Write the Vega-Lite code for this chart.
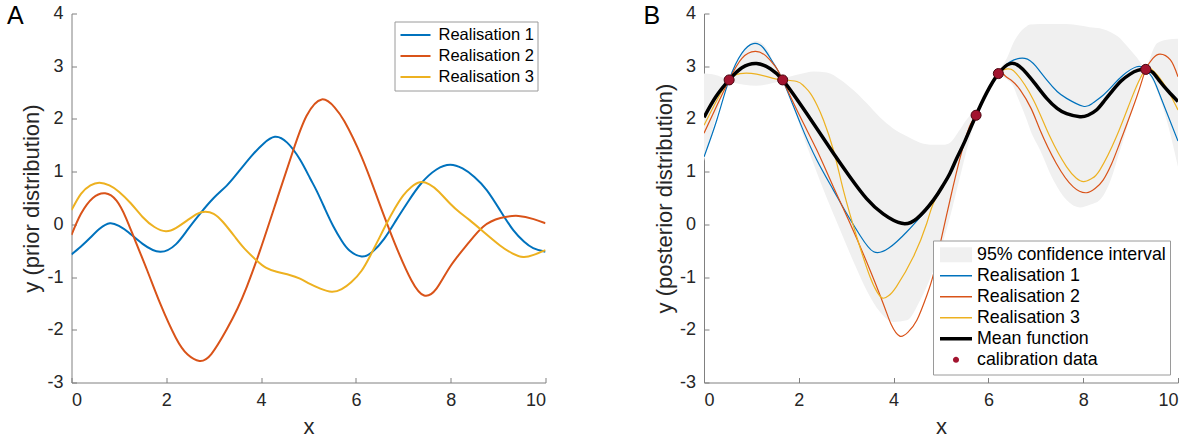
{
  "$schema": "https://vega.github.io/schema/vega-lite/v6.json",
  "autosize": {"type": "none"},
  "padding": {"left": 71.5, "top": 13.5, "right": 1124.5, "bottom": 429.5},
  "background": "white",
  "spacing": 158.5,
  "bounds": "flush",
  "config": {
    "view": {"stroke": null},
    "font": "Liberation Sans",
    "axis": {
      "grid": false,
      "domainColor": "#808080",
      "tickColor": "#808080",
      "tickSize": -5,
      "labelExpr": "'' + datum.value",
      "labelFont": "Liberation Sans",
      "labelFontSize": 18,
      "labelColor": "#262626",
      "titleFont": "Liberation Sans",
      "titleFontSize": 22,
      "titleFontWeight": "normal",
      "titleColor": "#262626"
    },
    "axisX": {"labelPadding": 14, "titlePadding": 7},
    "axisY": {"labelPadding": 13.5, "titlePadding": 3},
    "title": {"font": "Liberation Sans", "fontSize": 25, "fontWeight": "normal", "color": "#000000", "anchor": "start", "frame": "group", "offset": 0, "baseline": "alphabetic"}
  },
  "datasets": {
    "prior": [
      {"x":0,"y":-0.57,"s":"Realisation 1"},{"x":0.2,"y":-0.42,"s":"Realisation 1"},{"x":0.4,"y":-0.25,"s":"Realisation 1"},{"x":0.6,"y":-0.08,"s":"Realisation 1"},{"x":0.81,"y":0.02,"s":"Realisation 1"},{"x":1.0,"y":-0.03,"s":"Realisation 1"},{"x":1.2,"y":-0.15,"s":"Realisation 1"},{"x":1.5,"y":-0.37,"s":"Realisation 1"},{"x":1.87,"y":-0.52,"s":"Realisation 1"},{"x":2.2,"y":-0.38,"s":"Realisation 1"},{"x":2.45,"y":-0.1,"s":"Realisation 1"},{"x":2.71,"y":0.2,"s":"Realisation 1"},{"x":3.0,"y":0.5,"s":"Realisation 1"},{"x":3.27,"y":0.73,"s":"Realisation 1"},{"x":3.5,"y":0.97,"s":"Realisation 1"},{"x":3.8,"y":1.3,"s":"Realisation 1"},{"x":4.05,"y":1.53,"s":"Realisation 1"},{"x":4.29,"y":1.66,"s":"Realisation 1"},{"x":4.55,"y":1.55,"s":"Realisation 1"},{"x":4.82,"y":1.23,"s":"Realisation 1"},{"x":5.03,"y":0.88,"s":"Realisation 1"},{"x":5.17,"y":0.64,"s":"Realisation 1"},{"x":5.35,"y":0.29,"s":"Realisation 1"},{"x":5.52,"y":-0.03,"s":"Realisation 1"},{"x":5.7,"y":-0.31,"s":"Realisation 1"},{"x":5.87,"y":-0.5,"s":"Realisation 1"},{"x":6.12,"y":-0.61,"s":"Realisation 1"},{"x":6.35,"y":-0.52,"s":"Realisation 1"},{"x":6.6,"y":-0.27,"s":"Realisation 1"},{"x":6.85,"y":0.08,"s":"Realisation 1"},{"x":7.1,"y":0.43,"s":"Realisation 1"},{"x":7.38,"y":0.78,"s":"Realisation 1"},{"x":7.7,"y":1.04,"s":"Realisation 1"},{"x":7.99,"y":1.13,"s":"Realisation 1"},{"x":8.25,"y":1.06,"s":"Realisation 1"},{"x":8.5,"y":0.9,"s":"Realisation 1"},{"x":8.76,"y":0.65,"s":"Realisation 1"},{"x":9.04,"y":0.27,"s":"Realisation 1"},{"x":9.32,"y":-0.11,"s":"Realisation 1"},{"x":9.55,"y":-0.33,"s":"Realisation 1"},{"x":9.74,"y":-0.45,"s":"Realisation 1"},{"x":10,"y":-0.52,"s":"Realisation 1"},
      {"x":0,"y":-0.2,"s":"Realisation 2"},{"x":0.2,"y":0.2,"s":"Realisation 2"},{"x":0.45,"y":0.5,"s":"Realisation 2"},{"x":0.71,"y":0.59,"s":"Realisation 2"},{"x":0.95,"y":0.45,"s":"Realisation 2"},{"x":1.15,"y":0.12,"s":"Realisation 2"},{"x":1.34,"y":-0.3,"s":"Realisation 2"},{"x":1.6,"y":-0.88,"s":"Realisation 2"},{"x":1.87,"y":-1.5,"s":"Realisation 2"},{"x":2.2,"y":-2.15,"s":"Realisation 2"},{"x":2.45,"y":-2.47,"s":"Realisation 2"},{"x":2.7,"y":-2.59,"s":"Realisation 2"},{"x":2.95,"y":-2.46,"s":"Realisation 2"},{"x":3.27,"y":-2.0,"s":"Realisation 2"},{"x":3.5,"y":-1.6,"s":"Realisation 2"},{"x":3.7,"y":-1.18,"s":"Realisation 2"},{"x":3.98,"y":-0.49,"s":"Realisation 2"},{"x":4.33,"y":0.46,"s":"Realisation 2"},{"x":4.68,"y":1.41,"s":"Realisation 2"},{"x":4.96,"y":2.06,"s":"Realisation 2"},{"x":5.28,"y":2.37,"s":"Realisation 2"},{"x":5.55,"y":2.22,"s":"Realisation 2"},{"x":5.76,"y":1.95,"s":"Realisation 2"},{"x":6.12,"y":1.28,"s":"Realisation 2"},{"x":6.47,"y":0.46,"s":"Realisation 2"},{"x":6.82,"y":-0.36,"s":"Realisation 2"},{"x":7.17,"y":-1.06,"s":"Realisation 2"},{"x":7.44,"y":-1.35,"s":"Realisation 2"},{"x":7.7,"y":-1.22,"s":"Realisation 2"},{"x":7.99,"y":-0.8,"s":"Realisation 2"},{"x":8.35,"y":-0.38,"s":"Realisation 2"},{"x":8.69,"y":-0.04,"s":"Realisation 2"},{"x":9.05,"y":0.12,"s":"Realisation 2"},{"x":9.43,"y":0.16,"s":"Realisation 2"},{"x":9.75,"y":0.1,"s":"Realisation 2"},{"x":10,"y":0.02,"s":"Realisation 2"},
      {"x":0,"y":0.27,"s":"Realisation 3"},{"x":0.2,"y":0.58,"s":"Realisation 3"},{"x":0.4,"y":0.74,"s":"Realisation 3"},{"x":0.59,"y":0.79,"s":"Realisation 3"},{"x":0.8,"y":0.74,"s":"Realisation 3"},{"x":1.0,"y":0.62,"s":"Realisation 3"},{"x":1.25,"y":0.4,"s":"Realisation 3"},{"x":1.5,"y":0.14,"s":"Realisation 3"},{"x":1.75,"y":-0.05,"s":"Realisation 3"},{"x":1.99,"y":-0.13,"s":"Realisation 3"},{"x":2.2,"y":-0.07,"s":"Realisation 3"},{"x":2.45,"y":0.08,"s":"Realisation 3"},{"x":2.65,"y":0.2,"s":"Realisation 3"},{"x":2.82,"y":0.24,"s":"Realisation 3"},{"x":3.0,"y":0.2,"s":"Realisation 3"},{"x":3.2,"y":0.04,"s":"Realisation 3"},{"x":3.45,"y":-0.24,"s":"Realisation 3"},{"x":3.65,"y":-0.46,"s":"Realisation 3"},{"x":3.9,"y":-0.68,"s":"Realisation 3"},{"x":4.1,"y":-0.82,"s":"Realisation 3"},{"x":4.33,"y":-0.9,"s":"Realisation 3"},{"x":4.6,"y":-0.96,"s":"Realisation 3"},{"x":4.82,"y":-1.03,"s":"Realisation 3"},{"x":5.03,"y":-1.13,"s":"Realisation 3"},{"x":5.25,"y":-1.22,"s":"Realisation 3"},{"x":5.49,"y":-1.28,"s":"Realisation 3"},{"x":5.7,"y":-1.23,"s":"Realisation 3"},{"x":5.9,"y":-1.1,"s":"Realisation 3"},{"x":6.12,"y":-0.88,"s":"Realisation 3"},{"x":6.3,"y":-0.6,"s":"Realisation 3"},{"x":6.47,"y":-0.3,"s":"Realisation 3"},{"x":6.65,"y":0.02,"s":"Realisation 3"},{"x":6.82,"y":0.3,"s":"Realisation 3"},{"x":7.0,"y":0.55,"s":"Realisation 3"},{"x":7.17,"y":0.71,"s":"Realisation 3"},{"x":7.35,"y":0.8,"s":"Realisation 3"},{"x":7.55,"y":0.76,"s":"Realisation 3"},{"x":7.75,"y":0.62,"s":"Realisation 3"},{"x":7.99,"y":0.39,"s":"Realisation 3"},{"x":8.2,"y":0.22,"s":"Realisation 3"},{"x":8.4,"y":0.08,"s":"Realisation 3"},{"x":8.69,"y":-0.14,"s":"Realisation 3"},{"x":9.04,"y":-0.4,"s":"Realisation 3"},{"x":9.3,"y":-0.55,"s":"Realisation 3"},{"x":9.53,"y":-0.62,"s":"Realisation 3"},{"x":9.75,"y":-0.58,"s":"Realisation 3"},{"x":10,"y":-0.49,"s":"Realisation 3"}
    ],
    "band": [
      {"x":0,"lo":1.2,"hi":2.86},{"x":0.15,"lo":1.7,"hi":2.85},{"x":0.3,"lo":2.2,"hi":2.82},{"x":0.45,"lo":2.6,"hi":2.77},{"x":0.53,"lo":2.71,"hi":2.77},{"x":0.65,"lo":2.68,"hi":2.95},{"x":0.85,"lo":2.65,"hi":3.3},{"x":1.1,"lo":2.63,"hi":3.48},{"x":1.35,"lo":2.66,"hi":3.3},{"x":1.55,"lo":2.7,"hi":2.9},{"x":1.66,"lo":2.71,"hi":2.77},{"x":1.8,"lo":2.5,"hi":2.8},{"x":2.03,"lo":1.85,"hi":2.85},{"x":2.31,"lo":1.15,"hi":2.9},{"x":2.59,"lo":0.5,"hi":2.88},{"x":2.87,"lo":-0.1,"hi":2.75},{"x":3.15,"lo":-0.7,"hi":2.55},{"x":3.43,"lo":-1.25,"hi":2.3},{"x":3.71,"lo":-1.66,"hi":2.03},{"x":3.99,"lo":-1.85,"hi":1.82},{"x":4.28,"lo":-1.82,"hi":1.67},{"x":4.56,"lo":-1.44,"hi":1.55},{"x":4.84,"lo":-0.87,"hi":1.51},{"x":5.05,"lo":-0.3,"hi":1.51},{"x":5.19,"lo":0.14,"hi":1.55},{"x":5.4,"lo":0.9,"hi":1.8},{"x":5.6,"lo":1.6,"hi":2.05},{"x":5.74,"lo":2.02,"hi":2.12},{"x":5.96,"lo":2.42,"hi":2.56},{"x":6.21,"lo":2.81,"hi":2.91},{"x":6.39,"lo":2.75,"hi":3.15},{"x":6.53,"lo":2.61,"hi":3.45},{"x":6.6,"lo":2.45,"hi":3.56},{"x":6.81,"lo":1.98,"hi":3.76},{"x":6.88,"lo":1.8,"hi":3.79},{"x":7.09,"lo":1.41,"hi":3.8},{"x":7.37,"lo":0.84,"hi":3.8},{"x":7.65,"lo":0.46,"hi":3.8},{"x":7.93,"lo":0.32,"hi":3.77},{"x":8.14,"lo":0.37,"hi":3.74},{"x":8.35,"lo":0.46,"hi":3.72},{"x":8.63,"lo":0.97,"hi":3.62},{"x":8.74,"lo":1.3,"hi":3.56},{"x":8.91,"lo":1.79,"hi":3.4},{"x":9.11,"lo":2.48,"hi":3.19},{"x":9.32,"lo":2.89,"hi":2.99},{"x":9.48,"lo":2.7,"hi":3.32},{"x":9.55,"lo":2.55,"hi":3.43},{"x":9.76,"lo":1.98,"hi":3.5},{"x":10,"lo":1.09,"hi":3.52}
    ],
    "post": [
      {"x":0,"y":1.28,"s":"Realisation 1"},{"x":0.27,"y":1.98,"s":"Realisation 1"},{"x":0.53,"y":2.74,"s":"Realisation 1"},{"x":0.8,"y":3.25,"s":"Realisation 1"},{"x":1.04,"y":3.43,"s":"Realisation 1"},{"x":1.25,"y":3.35,"s":"Realisation 1"},{"x":1.45,"y":3.08,"s":"Realisation 1"},{"x":1.66,"y":2.74,"s":"Realisation 1"},{"x":2.03,"y":1.92,"s":"Realisation 1"},{"x":2.38,"y":1.22,"s":"Realisation 1"},{"x":2.73,"y":0.65,"s":"Realisation 1"},{"x":3.0,"y":0.22,"s":"Realisation 1"},{"x":3.3,"y":-0.22,"s":"Realisation 1"},{"x":3.58,"y":-0.52,"s":"Realisation 1"},{"x":3.9,"y":-0.45,"s":"Realisation 1"},{"x":4.28,"y":-0.14,"s":"Realisation 1"},{"x":4.63,"y":0.21,"s":"Realisation 1"},{"x":4.84,"y":0.45,"s":"Realisation 1"},{"x":5.05,"y":0.76,"s":"Realisation 1"},{"x":5.19,"y":0.98,"s":"Realisation 1"},{"x":5.33,"y":1.26,"s":"Realisation 1"},{"x":5.5,"y":1.57,"s":"Realisation 1"},{"x":5.74,"y":2.07,"s":"Realisation 1"},{"x":5.96,"y":2.5,"s":"Realisation 1"},{"x":6.21,"y":2.86,"s":"Realisation 1"},{"x":6.45,"y":3.08,"s":"Realisation 1"},{"x":6.77,"y":3.15,"s":"Realisation 1"},{"x":7.0,"y":3.0,"s":"Realisation 1"},{"x":7.23,"y":2.74,"s":"Realisation 1"},{"x":7.45,"y":2.52,"s":"Realisation 1"},{"x":7.65,"y":2.39,"s":"Realisation 1"},{"x":8.0,"y":2.24,"s":"Realisation 1"},{"x":8.2,"y":2.3,"s":"Realisation 1"},{"x":8.42,"y":2.45,"s":"Realisation 1"},{"x":8.64,"y":2.65,"s":"Realisation 1"},{"x":8.84,"y":2.83,"s":"Realisation 1"},{"x":9.13,"y":2.99,"s":"Realisation 1"},{"x":9.32,"y":2.94,"s":"Realisation 1"},{"x":9.45,"y":2.8,"s":"Realisation 1"},{"x":9.55,"y":2.61,"s":"Realisation 1"},{"x":9.75,"y":2.15,"s":"Realisation 1"},{"x":10,"y":1.58,"s":"Realisation 1"},
      {"x":0,"y":1.73,"s":"Realisation 2"},{"x":0.27,"y":2.25,"s":"Realisation 2"},{"x":0.53,"y":2.74,"s":"Realisation 2"},{"x":0.8,"y":3.15,"s":"Realisation 2"},{"x":1.08,"y":3.28,"s":"Realisation 2"},{"x":1.3,"y":3.2,"s":"Realisation 2"},{"x":1.5,"y":3.0,"s":"Realisation 2"},{"x":1.66,"y":2.74,"s":"Realisation 2"},{"x":2.03,"y":2.04,"s":"Realisation 2"},{"x":2.38,"y":1.41,"s":"Realisation 2"},{"x":2.73,"y":0.71,"s":"Realisation 2"},{"x":3.08,"y":0.02,"s":"Realisation 2"},{"x":3.43,"y":-0.71,"s":"Realisation 2"},{"x":3.78,"y":-1.5,"s":"Realisation 2"},{"x":3.95,"y":-1.9,"s":"Realisation 2"},{"x":4.13,"y":-2.12,"s":"Realisation 2"},{"x":4.3,"y":-2.05,"s":"Realisation 2"},{"x":4.49,"y":-1.82,"s":"Realisation 2"},{"x":4.7,"y":-1.35,"s":"Realisation 2"},{"x":4.84,"y":-0.95,"s":"Realisation 2"},{"x":5.0,"y":-0.3,"s":"Realisation 2"},{"x":5.2,"y":0.5,"s":"Realisation 2"},{"x":5.4,"y":1.25,"s":"Realisation 2"},{"x":5.6,"y":1.85,"s":"Realisation 2"},{"x":5.74,"y":2.07,"s":"Realisation 2"},{"x":5.96,"y":2.5,"s":"Realisation 2"},{"x":6.21,"y":2.86,"s":"Realisation 2"},{"x":6.35,"y":2.82,"s":"Realisation 2"},{"x":6.5,"y":2.72,"s":"Realisation 2"},{"x":6.67,"y":2.55,"s":"Realisation 2"},{"x":6.9,"y":2.2,"s":"Realisation 2"},{"x":7.09,"y":1.79,"s":"Realisation 2"},{"x":7.43,"y":1.16,"s":"Realisation 2"},{"x":7.79,"y":0.71,"s":"Realisation 2"},{"x":8.07,"y":0.6,"s":"Realisation 2"},{"x":8.25,"y":0.68,"s":"Realisation 2"},{"x":8.42,"y":0.84,"s":"Realisation 2"},{"x":8.6,"y":1.15,"s":"Realisation 2"},{"x":8.77,"y":1.54,"s":"Realisation 2"},{"x":9.13,"y":2.42,"s":"Realisation 2"},{"x":9.32,"y":2.94,"s":"Realisation 2"},{"x":9.47,"y":3.15,"s":"Realisation 2"},{"x":9.62,"y":3.23,"s":"Realisation 2"},{"x":9.84,"y":3.12,"s":"Realisation 2"},{"x":10,"y":2.8,"s":"Realisation 2"},
      {"x":0,"y":1.88,"s":"Realisation 3"},{"x":0.27,"y":2.35,"s":"Realisation 3"},{"x":0.53,"y":2.74,"s":"Realisation 3"},{"x":0.76,"y":2.86,"s":"Realisation 3"},{"x":1.11,"y":2.85,"s":"Realisation 3"},{"x":1.46,"y":2.77,"s":"Realisation 3"},{"x":1.66,"y":2.74,"s":"Realisation 3"},{"x":1.96,"y":2.71,"s":"Realisation 3"},{"x":2.1,"y":2.63,"s":"Realisation 3"},{"x":2.24,"y":2.49,"s":"Realisation 3"},{"x":2.38,"y":2.27,"s":"Realisation 3"},{"x":2.52,"y":1.98,"s":"Realisation 3"},{"x":2.73,"y":1.41,"s":"Realisation 3"},{"x":2.94,"y":0.65,"s":"Realisation 3"},{"x":3.22,"y":-0.23,"s":"Realisation 3"},{"x":3.5,"y":-0.99,"s":"Realisation 3"},{"x":3.65,"y":-1.28,"s":"Realisation 3"},{"x":3.77,"y":-1.4,"s":"Realisation 3"},{"x":3.9,"y":-1.35,"s":"Realisation 3"},{"x":4.06,"y":-1.18,"s":"Realisation 3"},{"x":4.42,"y":-0.61,"s":"Realisation 3"},{"x":4.7,"y":0.02,"s":"Realisation 3"},{"x":4.84,"y":0.4,"s":"Realisation 3"},{"x":5.05,"y":0.74,"s":"Realisation 3"},{"x":5.19,"y":0.96,"s":"Realisation 3"},{"x":5.33,"y":1.24,"s":"Realisation 3"},{"x":5.5,"y":1.56,"s":"Realisation 3"},{"x":5.74,"y":2.07,"s":"Realisation 3"},{"x":5.96,"y":2.49,"s":"Realisation 3"},{"x":6.21,"y":2.86,"s":"Realisation 3"},{"x":6.4,"y":2.95,"s":"Realisation 3"},{"x":6.59,"y":2.86,"s":"Realisation 3"},{"x":6.95,"y":2.36,"s":"Realisation 3"},{"x":7.3,"y":1.66,"s":"Realisation 3"},{"x":7.65,"y":1.09,"s":"Realisation 3"},{"x":7.85,"y":0.88,"s":"Realisation 3"},{"x":8.01,"y":0.81,"s":"Realisation 3"},{"x":8.18,"y":0.87,"s":"Realisation 3"},{"x":8.35,"y":1.03,"s":"Realisation 3"},{"x":8.7,"y":1.66,"s":"Realisation 3"},{"x":9.06,"y":2.48,"s":"Realisation 3"},{"x":9.32,"y":2.94,"s":"Realisation 3"},{"x":9.47,"y":2.92,"s":"Realisation 3"},{"x":9.62,"y":2.77,"s":"Realisation 3"},{"x":9.8,"y":2.52,"s":"Realisation 3"},{"x":10,"y":2.17,"s":"Realisation 3"}
    ],
    "mean": [
      {"x":0,"y":2.03},{"x":0.25,"y":2.42},{"x":0.53,"y":2.74},{"x":0.8,"y":2.97},{"x":1.11,"y":3.05},{"x":1.4,"y":2.95},{"x":1.66,"y":2.74},{"x":2.0,"y":2.32},{"x":2.38,"y":1.82},{"x":2.73,"y":1.35},{"x":3.08,"y":0.9},{"x":3.43,"y":0.49},{"x":3.78,"y":0.2},{"x":4.17,"y":0.02},{"x":4.49,"y":0.11},{"x":4.84,"y":0.46},{"x":5.05,"y":0.75},{"x":5.19,"y":0.97},{"x":5.33,"y":1.25},{"x":5.5,"y":1.57},{"x":5.74,"y":2.07},{"x":5.96,"y":2.49},{"x":6.21,"y":2.86},{"x":6.46,"y":3.05},{"x":6.65,"y":3.0},{"x":6.81,"y":2.86},{"x":7.0,"y":2.65},{"x":7.23,"y":2.39},{"x":7.45,"y":2.2},{"x":7.65,"y":2.1},{"x":7.93,"y":2.04},{"x":8.1,"y":2.07},{"x":8.28,"y":2.17},{"x":8.45,"y":2.35},{"x":8.63,"y":2.55},{"x":8.8,"y":2.72},{"x":8.99,"y":2.85},{"x":9.15,"y":2.92},{"x":9.32,"y":2.94},{"x":9.47,"y":2.88},{"x":9.62,"y":2.71},{"x":9.8,"y":2.52},{"x":10,"y":2.33}
    ],
    "cal": [
      {"x":0.53,"y":2.74},{"x":1.66,"y":2.74},{"x":5.74,"y":2.07},{"x":6.21,"y":2.86},{"x":9.32,"y":2.94}
    ]
  },
  "hconcat": [
    {
      "width": 474,
      "height": 369,
      "title": {"text": "A", "dx": -64.5, "dy": 28},
      "data": {"name": "prior"},
      "mark": {"type": "line", "strokeWidth": 2, "interpolate": "natural", "clip": true},
      "encoding": {
        "x": {"field": "x", "type": "quantitative", "title": "x", "scale": {"domain": [0, 10], "nice": false}, "axis": {"values": [0, 2, 4, 6, 8, 10]}},
        "y": {"field": "y", "type": "quantitative", "title": "y (prior distribution)", "scale": {"domain": [-3, 4], "nice": false}, "axis": {"values": [-3, -2, -1, 0, 1, 2, 3, 4]}},
        "color": {
          "field": "s", "type": "nominal",
          "scale": {"domain": ["Realisation 1", "Realisation 2", "Realisation 3"], "range": ["#0072BD", "#D95319", "#EDB120"]},
          "legend": {
            "title": null, "orient": "top-right", "offset": 8,
            "fillColor": "white", "strokeColor": "#9a9a9a", "padding": 3,
            "symbolType": "stroke", "symbolSize": 900, "symbolStrokeWidth": 2, "symbolOffset": 2,
            "clipHeight": 21, "rowPadding": 0,
            "labelFont": "Liberation Sans", "labelFontSize": 16.5, "labelColor": "#000000", "labelOffset": 7
          }
        }
      }
    },
    {
      "width": 474,
      "height": 369,
      "title": {"text": "B", "dx": -60.5, "dy": 28},
      "layer": [
        {
          "data": {"name": "band"},
          "transform": [{"calculate": "'95% confidence interval'", "as": "s"}],
          "mark": {"type": "area", "interpolate": "monotone", "opacity": 1, "clip": true},
          "encoding": {
            "x": {"field": "x", "type": "quantitative", "title": "x", "scale": {"domain": [0, 10], "nice": false}, "axis": {"values": [0, 2, 4, 6, 8, 10]}},
            "y": {"field": "lo", "type": "quantitative", "title": "y (posterior distribution)", "scale": {"domain": [-3, 4], "nice": false}, "axis": {"values": [-3, -2, -1, 0, 1, 2, 3, 4]}},
            "y2": {"field": "hi"},
            "color": {
              "field": "s", "type": "nominal",
              "scale": {"domain": ["95% confidence interval", "Realisation 1", "Realisation 2", "Realisation 3", "Mean function", "calibration data"], "range": ["#f0f0f0", "#0072BD", "#D95319", "#EDB120", "#000000", "#A2142F"]},
              "legend": {
                "title": null, "orient": "bottom-right", "offset": 8,
                "fillColor": "white", "strokeColor": "#9a9a9a", "padding": 4,
                "symbolSize": 1024, "symbolOffset": 3, "symbolStrokeWidth": 0, "symbolOpacity": 1,
                "clipHeight": 20.5, "rowPadding": 0, "labelLimit": 400,
                "labelFont": "Liberation Sans", "labelFontSize": 17.8, "labelColor": "#000000", "labelOffset": 5
              }
            }
          }
        },
        {
          "data": {"name": "post"},
          "mark": {"type": "line", "strokeWidth": 1.2, "interpolate": "natural", "clip": true},
          "encoding": {
            "x": {"field": "x", "type": "quantitative"},
            "y": {"field": "y", "type": "quantitative"},
            "color": {"field": "s", "type": "nominal"}
          }
        },
        {
          "data": {"name": "mean"},
          "transform": [{"calculate": "'Mean function'", "as": "s"}],
          "mark": {"type": "line", "strokeWidth": 3.5, "interpolate": "natural", "clip": true},
          "encoding": {
            "x": {"field": "x", "type": "quantitative"},
            "y": {"field": "y", "type": "quantitative"},
            "color": {"field": "s", "type": "nominal"}
          }
        },
        {
          "data": {"name": "cal"},
          "transform": [{"calculate": "'calibration data'", "as": "s"}],
          "mark": {"type": "point", "filled": true, "size": 2800, "opacity": 1, "stroke": "#4a0812", "strokeWidth": 1},
          "encoding": {
            "x": {"field": "x", "type": "quantitative"},
            "y": {"field": "y", "type": "quantitative"},
            "color": {"field": "s", "type": "nominal"},
            "shape": {
              "field": "s", "type": "nominal",
              "scale": {"domain": ["95% confidence interval", "Realisation 1", "Realisation 2", "Realisation 3", "Mean function", "calibration data"], "range": ["M-1,-0.47H1V0.47H-1Z", "M-1,-0.04H1V0.04H-1Z", "M-1,-0.04H1V0.04H-1Z", "M-1,-0.04H1V0.04H-1Z", "M-1,-0.11H1V0.11H-1Z", "M0.19,0A0.19,0.19,0,1,1,-0.19,0A0.19,0.19,0,1,1,0.19,0Z"]},
              "legend": {"title": null}
            }
          }
        }
      ]
    }
  ],
  "resolve": {"scale": {"color": "independent", "shape": "independent", "x": "independent", "y": "independent"}, "legend": {"color": "independent", "shape": "independent"}}
}
